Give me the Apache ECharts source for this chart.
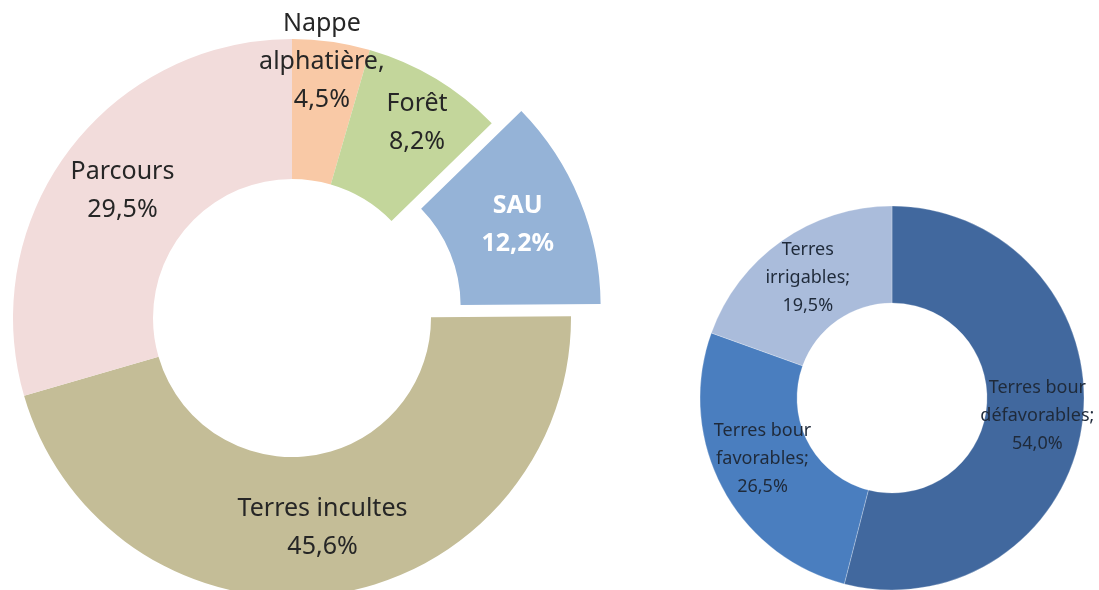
<!DOCTYPE html>
<html>
<head>
<meta charset="utf-8">
<script src="https://cdn.jsdelivr.net/npm/echarts@6/dist/echarts.min.js"></script>
<style>
  html, body { margin: 0; padding: 0; background: #fff; }
  #chart { width: 1099px; height: 590px; }
</style>
</head>
<body>
<div id="chart"></div>
<script>
// occupation des terres (donut de gauche)
const leftNames = ['Nappe\nalphatière,', 'Forêt', 'SAU', 'Terres incultes', 'Parcours'];
const leftValues = [4.5, 8.2, 12.2, 45.6, 29.5];
const leftColors = ['#F9C9A6', '#C3D69B', '#95B3D7', '#C4BD97', '#F2DCDB'];
// répartition de la SAU (donut de droite)
const rightNames = ['Terres bour\ndéfavorables;', 'Terres bour\nfavorables;', 'Terres\nirrigables;'];
const rightValues = [54.0, 26.5, 19.5];
const rightColors = ['#41689E', '#4A7EBF', '#AABCDB'];

// petits décalages des étiquettes (px) pour coller à l'original
const leftLabelShift = [[0, -46], [16, -13], [0, 0], [0, 0], [0, 0]];
const rightLabelShift = [[0, 0], [0, -8], [0, 0]];

const fmt = v => v.toFixed(1).replace('.', ',') + '%';

const chart = echarts.init(document.getElementById('chart'));

const option = {
  animation: false,
  series: [
    {
      type: 'pie',
      center: [292, 318],
      radius: [139, 279],
      startAngle: 90,
      clockwise: true,
      selectedMode: 'single',
      selectedOffset: 32,
      avoidLabelOverlap: false,
      emphasis: { disabled: true },
      label: {
        show: true,
        position: 'inside',
        fontFamily: 'Noto Sans',
        fontSize: 25,
        lineHeight: 38,
        color: '#262626',
        formatter: p => p.name + '\n' + fmt(p.value),
      },
      labelLine: { show: false },
      labelLayout: p => ({ dx: leftLabelShift[p.dataIndex][0], dy: leftLabelShift[p.dataIndex][1] }),
      data: leftNames.map((n, i) => {
        const d = { name: n, value: leftValues[i], itemStyle: { color: leftColors[i] } };
        if (n === 'SAU') {
          d.selected = true;
          d.label = { color: '#ffffff', fontWeight: 'bold' };
        }
        return d;
      }),
    },
    {
      type: 'pie',
      center: [892, 398],
      radius: [95, 192],
      startAngle: 90,
      clockwise: true,
      avoidLabelOverlap: false,
      emphasis: { disabled: true },
      itemStyle: { borderColor: 'rgba(255,255,255,0.25)', borderWidth: 1 },
      label: {
        show: true,
        position: 'inside',
        fontFamily: 'Noto Sans',
        fontSize: 18,
        lineHeight: 28,
        color: '#1f2a3a',
        formatter: p => p.name + '\n' + fmt(p.value),
      },
      labelLine: { show: false },
      labelLayout: p => ({ dx: rightLabelShift[p.dataIndex][0], dy: rightLabelShift[p.dataIndex][1] }),
      data: rightNames.map((n, i) => ({ name: n, value: rightValues[i], itemStyle: { color: rightColors[i] } })),
    },
  ],
};

chart.setOption(option);
</script>
</body>
</html>
